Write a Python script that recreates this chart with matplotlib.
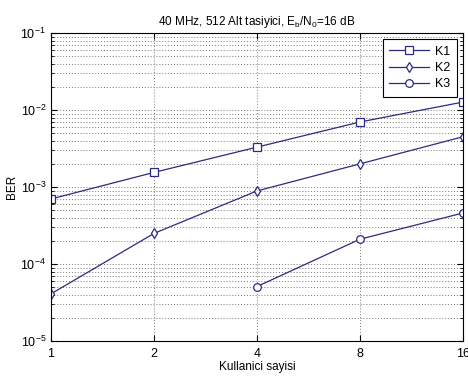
import matplotlib.pyplot as plt
from matplotlib.ticker import FixedLocator, NullFormatter, LogLocator

plt.rcParams['font.family'] = ['Liberation Sans', 'DejaVu Sans']
plt.rcParams['mathtext.fontset'] = 'custom'
plt.rcParams['mathtext.rm'] = 'Liberation Sans'
plt.rcParams['mathtext.it'] = 'Liberation Sans'

# data
users = [1, 2, 4, 8, 16]
k1 = [7.0e-4, 1.55e-3, 3.3e-3, 7.0e-3, 1.27e-2]
k2 = [4.1e-5, 2.5e-4, 8.9e-4, 2.0e-3, 4.5e-3]
users_k3 = [4, 8, 16]
k3 = [5.1e-5, 2.1e-4, 4.6e-4]

line_col = '#2b2b80'

fig = plt.figure(figsize=(4.68, 3.76), dpi=100)
ax = fig.add_axes([0.109, 0.093, 0.880, 0.819])

ax.plot(users, k1, '-s', color=line_col, lw=0.9, ms=5.5, mfc='white', mec=line_col, mew=0.9, label='K1')
ax.plot(users, k2, '-d', color=line_col, lw=0.9, ms=5.5, mfc='white', mec=line_col, mew=0.9, label='K2')
ax.plot(users_k3, k3, '-o', color=line_col, lw=0.9, ms=5.5, mfc='white', mec=line_col, mew=0.9, label='K3')

ax.set_xscale('log', base=2)
ax.set_yscale('log')
ax.set_xlim(1, 16)
ax.set_ylim(1e-5, 1e-1)
ax.xaxis.set_major_locator(FixedLocator(users))
ax.set_xticklabels([str(u) for u in users])
ax.xaxis.set_minor_locator(FixedLocator([]))
ax.yaxis.set_major_locator(LogLocator(base=10, numticks=10))
ax.yaxis.set_minor_locator(LogLocator(base=10, subs=range(2, 10), numticks=20))
ax.yaxis.set_minor_formatter(NullFormatter())

ax.grid(True, which='major', ls=(0, (1, 2)), color='#777777', lw=0.7)
ax.grid(True, which='minor', axis='y', ls=(0, (1, 2)), color='#777777', lw=0.7)
ax.tick_params(which='both', direction='in', top=True, right=True, labelsize=9)
ax.tick_params(axis='x', pad=5)
ax.tick_params(which='major', length=4)
ax.tick_params(which='minor', length=2)
for s in ax.spines.values():
    s.set_linewidth(0.8)

ax.set_title('40 MHz, 512 Alt tasiyici, E$_b$/N$_0$=16 dB', fontsize=8.5)
ax.set_xlabel('Kullanici sayisi', fontsize=8.5, labelpad=1)
ax.set_ylabel('BER', fontsize=8.5, labelpad=2)

leg = ax.legend(loc='upper right', fontsize=9, handlelength=3.2, fancybox=False,
                edgecolor='black', framealpha=1, borderaxespad=0.5, labelspacing=0.35,
                handletextpad=0.5, borderpad=0.5)
leg.get_frame().set_linewidth(0.8)

fig.savefig('out.png', dpi=100)
